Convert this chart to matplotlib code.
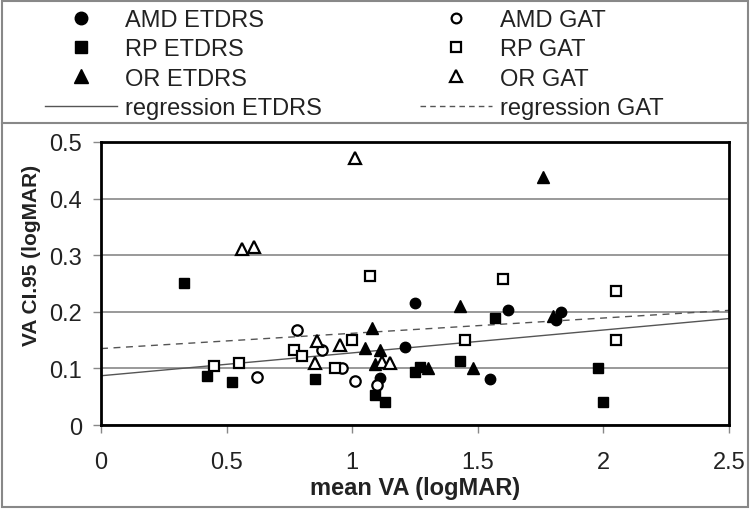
import matplotlib.pyplot as plt
from matplotlib.lines import Line2D

plt.rcParams['font.family'] = ['Liberation Sans', 'DejaVu Sans']

# mean VA vs VA CI.95 (logMAR)
amd_etdrs_x = [1.25, 1.21, 1.11, 1.55, 1.62, 1.83, 1.81]
amd_etdrs_y = [0.216, 0.137, 0.083, 0.081, 0.204, 0.199, 0.185]
rp_etdrs_x = [0.33, 0.42, 0.52, 0.85, 1.09, 1.13, 1.25, 1.27, 1.43, 1.57, 1.98, 2.00]
rp_etdrs_y = [0.251, 0.087, 0.076, 0.081, 0.053, 0.040, 0.093, 0.103, 0.113, 0.189, 0.100, 0.040]
or_etdrs_x = [1.76, 1.08, 1.05, 1.11, 1.09, 1.43, 1.30, 1.48, 1.80]
or_etdrs_y = [0.438, 0.171, 0.136, 0.132, 0.108, 0.210, 0.100, 0.101, 0.193]
amd_gat_x = [0.78, 0.88, 0.62, 0.96, 1.01, 1.10]
amd_gat_y = [0.168, 0.133, 0.084, 0.100, 0.077, 0.071]
rp_gat_x = [1.07, 1.00, 0.77, 0.80, 0.45, 0.55, 0.93, 1.60, 2.05, 1.45, 2.05]
rp_gat_y = [0.263, 0.151, 0.133, 0.122, 0.105, 0.109, 0.100, 0.258, 0.237, 0.151, 0.151]
or_gat_x = [1.01, 0.56, 0.61, 0.86, 0.95, 0.85, 1.12, 1.15]
or_gat_y = [0.471, 0.311, 0.314, 0.149, 0.142, 0.109, 0.111, 0.109]

# regression lines (intercept, slope)
reg_etdrs = (0.087, 0.0404)
reg_gat = (0.135, 0.027)
x_range = [0, 2.5]

fig = plt.figure(figsize=(7.5, 5.1), dpi=100)
ax = fig.add_axes([0.1347, 0.1647, 0.8373, 0.555])

ms = 7.5
ax.plot(amd_etdrs_x, amd_etdrs_y, 'o', color='black', ms=ms, zorder=3)
ax.plot(rp_etdrs_x, rp_etdrs_y, 's', color='black', ms=ms, zorder=3)
ax.plot(or_etdrs_x, or_etdrs_y, '^', color='black', ms=ms + 1, zorder=3)
ax.plot(amd_gat_x, amd_gat_y, 'o', mfc='white', mec='black', mew=1.6, ms=ms, zorder=3)
ax.plot(rp_gat_x, rp_gat_y, 's', mfc='white', mec='black', mew=1.6, ms=ms, zorder=3)
ax.plot(or_gat_x, or_gat_y, '^', mfc='white', mec='black', mew=1.6, ms=ms + 1, zorder=3)

ax.plot(x_range, [reg_etdrs[0] + reg_etdrs[1] * x for x in x_range], '-', color='#555555', lw=1, zorder=2)
ax.plot(x_range, [reg_gat[0] + reg_gat[1] * x for x in x_range], '--', color='#555555', lw=1,
        dashes=(5, 4), zorder=2)

ax.set_xlim(0, 2.5)
ax.set_ylim(0, 0.5)
ax.set_xticks([0, 0.5, 1, 1.5, 2, 2.5])
ax.set_xticklabels(['0', '0.5', '1', '1.5', '2', '2.5'])
ax.set_yticks([0, 0.1, 0.2, 0.3, 0.4, 0.5])
ax.set_yticklabels(['0', '0.1', '0.2', '0.3', '0.4', '0.5'])
ax.yaxis.grid(True, color='#888888', lw=1.2)
ax.set_axisbelow(True)
for s in ax.spines.values():
    s.set_linewidth(2)
    s.set_color('black')
ax.tick_params(direction='out', length=5.5, width=1, color='#888888', labelsize=17,
               labelcolor='#222222')
ax.tick_params(axis='x', pad=13)
ax.tick_params(axis='y', pad=8)
ax.set_xlabel('mean VA (logMAR)', fontsize=17, fontweight='bold', color='#222222')
ax.set_ylabel('VA CI.95 (logMAR)', fontsize=15, fontweight='bold', color='#222222')
ax.xaxis.set_label_coords(0.5, -0.18)
ax.yaxis.set_label_coords(-0.095, 0.604)

# legend in the top panel
open_kw = dict(mfc='white', mec='black', mew=1.6, ls='none')
h1 = [Line2D([], [], marker='o', color='black', ls='none', ms=9),
      Line2D([], [], marker='s', color='black', ls='none', ms=8),
      Line2D([], [], marker='^', color='black', ls='none', ms=9.5),
      Line2D([], [], color='#555555', lw=1)]
l1 = ['AMD ETDRS', 'RP ETDRS', 'OR ETDRS', 'regression ETDRS']
h2 = [Line2D([], [], marker='o', ms=7, **open_kw),
      Line2D([], [], marker='s', ms=7, **open_kw),
      Line2D([], [], marker='^', ms=8, **open_kw),
      Line2D([], [], color='#555555', lw=1, ls='--', dashes=(4, 3))]
l2 = ['AMD GAT', 'RP GAT', 'OR GAT', 'regression GAT']
leg_kw = dict(loc='upper left', frameon=False, fontsize=17, handlelength=3.05,
              handletextpad=0.34, labelspacing=0.31, borderpad=0, borderaxespad=0,
              labelcolor='#222222')
fig.legend(h1, l1, bbox_to_anchor=(45 / 750, 1 - 10 / 510), **leg_kw)
fig.legend(h2, l2, bbox_to_anchor=(420 / 750, 1 - 10 / 510), **leg_kw)

# frame and separator
fig.add_artist(plt.Rectangle((0.003, 0.003), 0.994, 0.994, transform=fig.transFigure,
                             fill=False, ec='#888888', lw=1.5))
fig.add_artist(Line2D([0.003, 0.997], [1 - 124 / 510] * 2, transform=fig.transFigure,
                      color='#888888', lw=1.5))

fig.savefig('out.png', dpi=100)
